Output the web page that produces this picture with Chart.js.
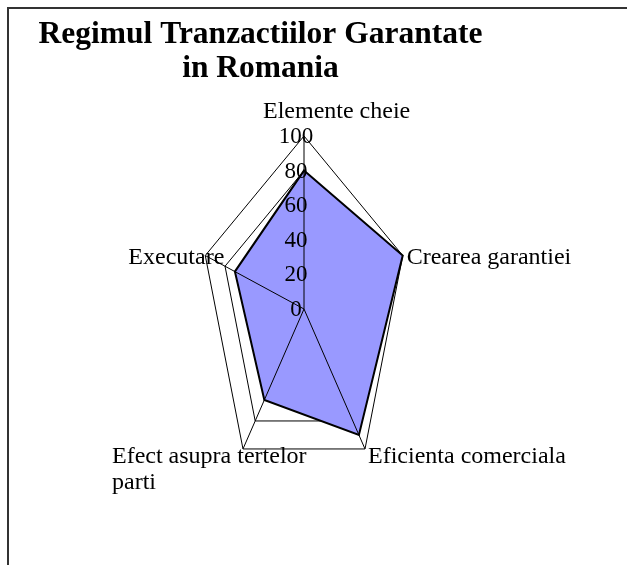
<!DOCTYPE html>
<html>
<head>
<meta charset="utf-8">
<title>Regimul Tranzactiilor Garantate in Romania</title>
<script src="https://cdn.jsdelivr.net/npm/chart.js@4/dist/chart.umd.min.js"></script>
<style>
  html, body { margin: 0; padding: 0; background: #fff; }
  canvas { display: block; }
</style>
</head>
<body>
<canvas id="radar" width="627" height="565"></canvas>
<script>
// chart data
const titleLines = ['Regimul Tranzactiilor Garantate', 'in Romania'];
const categories = ['Elemente cheie', 'Crearea garantiei', 'Eficienta comerciala', ['Efect asupra tertelor', 'parti'], 'Executare'];
const scores = [80, 100, 90, 65, 70];
const tickValues = [0, 20, 40, 60, 80, 100];

const SERIF = '"Liberation Serif", "Times New Roman", serif';

// the original radar is narrower than it is tall, so squeeze the x offsets
const X_SQUASH = 0.6;

class SquashedRadialScale extends Chart.RadialLinearScale {
  getPointPosition(index, distance, additionalAngle = 0) {
    const p = super.getPointPosition(index, distance, additionalAngle);
    return { x: this.xCenter + (p.x - this.xCenter) * X_SQUASH, y: p.y, angle: p.angle };
  }
}
SquashedRadialScale.id = 'squashedRadial';
SquashedRadialScale.defaults = Chart.RadialLinearScale.defaults;
Chart.register(SquashedRadialScale);

// label placement next to each outer vertex (dx, dy to baseline, alignment)
const labelSpots = [
  { dx: -41, dy: -18, align: 'left' },
  { dx: 4, dy: 8, align: 'left' },
  { dx: 3, dy: 14, align: 'left' },
  { dx: -131, dy: 14, align: 'left' },
  { dx: 19, dy: 8, align: 'right' }
];
const visibleSpokes = [0, 2, 3, 4];

const excelDecor = {
  id: 'excelDecor',
  beforeDraw(chart) {
    const ctx = chart.ctx;
    ctx.save();
    ctx.strokeStyle = '#333';
    ctx.lineWidth = 2;
    ctx.beginPath();
    ctx.moveTo(8, chart.height);
    ctx.lineTo(8, 8);
    ctx.lineTo(chart.width, 8);
    ctx.stroke();
    ctx.restore();
  },
  afterDatasetsDraw(chart) {
    const ctx = chart.ctx;
    const r = chart.scales.r;
    ctx.save();

    // spokes drawn over the fill
    ctx.strokeStyle = '#000';
    ctx.lineWidth = 1;
    visibleSpokes.forEach(i => {
      const end = r.getPointPositionForValue(i, r.max);
      ctx.beginPath();
      ctx.moveTo(r.xCenter, r.yCenter);
      ctx.lineTo(end.x, end.y);
      ctx.stroke();
    });

    // value labels along the vertical axis
    ctx.fillStyle = '#000';
    ctx.font = '23px ' + SERIF;
    ctx.textAlign = 'center';
    ctx.textBaseline = 'middle';
    r.ticks.forEach(t => {
      const p = r.getPointPositionForValue(0, t.value);
      ctx.fillText(String(t.value), r.xCenter - 8, p.y + 1);
    });

    // category labels
    ctx.font = '24px ' + SERIF;
    ctx.textBaseline = 'alphabetic';
    categories.forEach((label, i) => {
      const v = r.getPointPositionForValue(i, r.max);
      const spot = labelSpots[i];
      ctx.textAlign = spot.align;
      const lines = Array.isArray(label) ? label : [label];
      lines.forEach((line, k) => {
        ctx.fillText(line, v.x + spot.dx, v.y + spot.dy + k * 26);
      });
    });

    // title
    ctx.font = 'bold 31.5px ' + SERIF;
    ctx.textAlign = 'center';
    ctx.fillText(titleLines[0], 260.5, 43);
    ctx.fillText(titleLines[1], 260.5, 77);
    ctx.restore();
  }
};

new Chart(document.getElementById('radar').getContext('2d'), {
  type: 'radar',
  data: {
    labels: categories,
    datasets: [{
      label: 'Romania',
      data: scores,
      backgroundColor: '#9999FF',
      borderColor: '#000',
      borderWidth: 2,
      pointRadius: 0,
      pointHoverRadius: 0,
      fill: true,
      tension: 0
    }]
  },
  options: {
    responsive: false,
    animation: false,
    devicePixelRatio: 1,
    layout: { padding: { left: 131, right: 150, top: 136, bottom: 83 } },
    plugins: {
      legend: { display: false },
      title: { display: false },
      tooltip: { enabled: false }
    },
    scales: {
      r: {
        type: 'squashedRadial',
        min: 0,
        max: 100,
        afterBuildTicks: s => { s.ticks = tickValues.map(v => ({ value: v })); },
        ticks: { display: false },
        pointLabels: { display: false },
        angleLines: { display: false },
        grid: { color: '#000', lineWidth: 1 }
      }
    }
  },
  plugins: [excelDecor]
});
</script>
</body>
</html>
